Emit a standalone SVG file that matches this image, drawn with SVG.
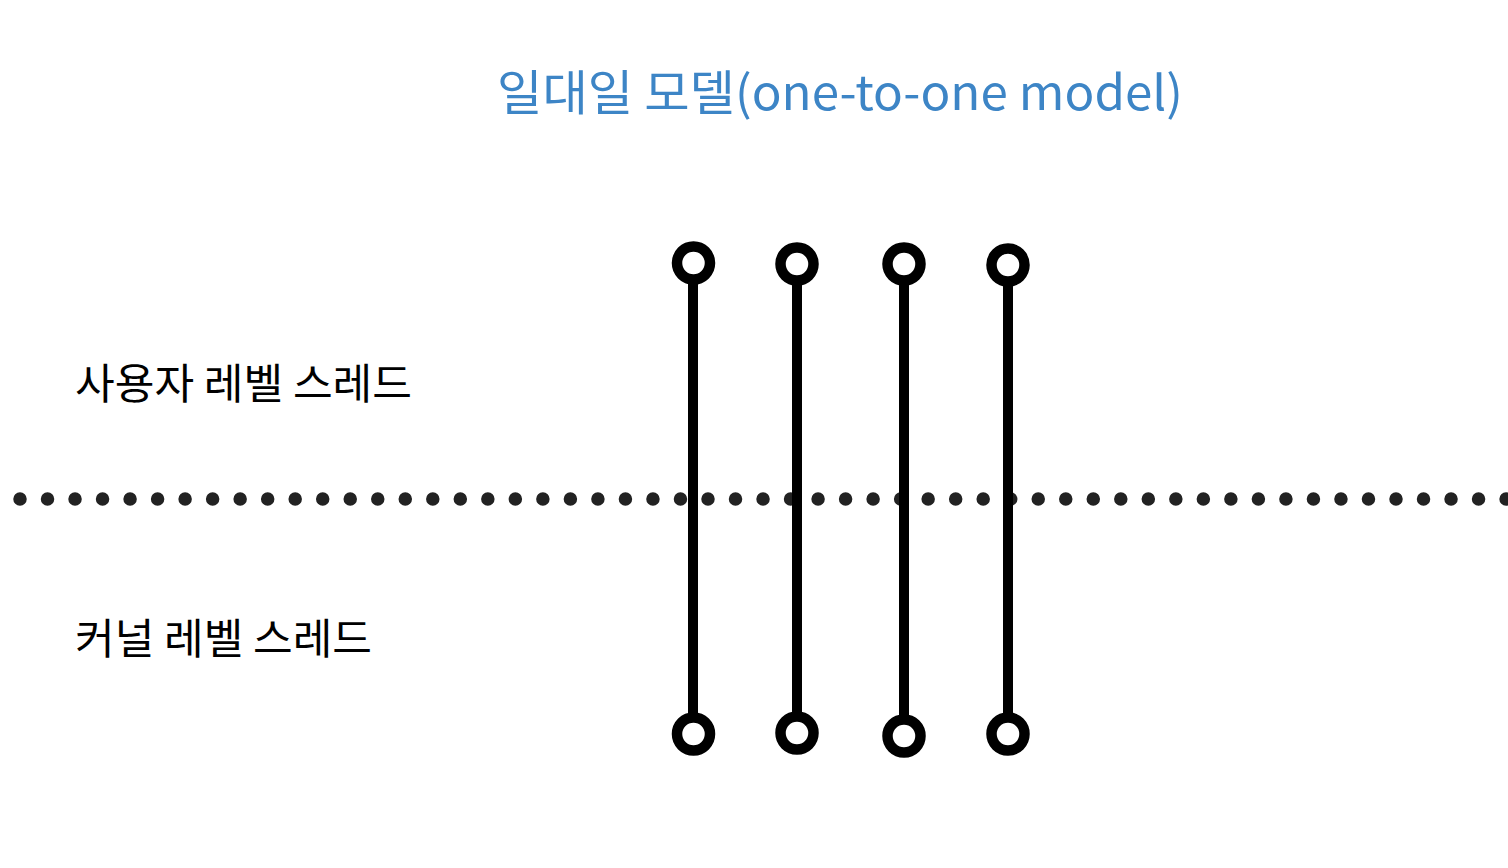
<svg xmlns="http://www.w3.org/2000/svg" width="1508" height="868" viewBox="0 0 1508 868">
<style>
.lbl{font-family:"Noto Sans CJK KR","Noto Sans",sans-serif;fill:#000;font-size:42px}
.title{font-family:"Noto Sans CJK KR","Noto Sans",sans-serif;fill:#3d85c6;font-size:48px}
.bar{stroke:#000;stroke-width:10;fill:none}
.end{stroke:#000;stroke-width:10.5;fill:#fff}
</style>
<rect width="1508" height="868" fill="#fff"/>
<g id="title"><text class="title" x="497" y="110" textLength="686" lengthAdjust="spacingAndGlyphs">일대일 모델(one-to-one model)</text></g>
<g id="user-label"><text class="lbl" x="75" y="399" textLength="337" lengthAdjust="spacingAndGlyphs">사용자 레벨 스레드</text></g>
<g id="kernel-label"><text class="lbl" x="75" y="654" textLength="297" lengthAdjust="spacingAndGlyphs">커널 레벨 스레드</text></g>
<g id="divider"><line x1="20" y1="499" x2="1515" y2="499" stroke="#222" stroke-width="13.5" stroke-linecap="round" stroke-dasharray="0 27.52"/></g>
<g id="connectors">
<line class="bar" x1="693" y1="263" x2="693" y2="734"/>
<line class="bar" x1="797" y1="264" x2="797" y2="733"/>
<line class="bar" x1="904" y1="264" x2="904" y2="736"/>
<line class="bar" x1="1008" y1="265" x2="1008" y2="734"/>
</g>
<g id="thread1"><circle class="end" cx="693.5" cy="263" r="16.5"/><circle class="end" cx="693.5" cy="734" r="16.5"/></g>
<g id="thread2"><circle class="end" cx="797" cy="264" r="16.5"/><circle class="end" cx="797" cy="733" r="16.5"/></g>
<g id="thread3"><circle class="end" cx="904" cy="264" r="16.5"/><circle class="end" cx="904" cy="736" r="16.5"/></g>
<g id="thread4"><circle class="end" cx="1008" cy="265" r="16.5"/><circle class="end" cx="1008" cy="734" r="16.5"/></g>
</svg>
